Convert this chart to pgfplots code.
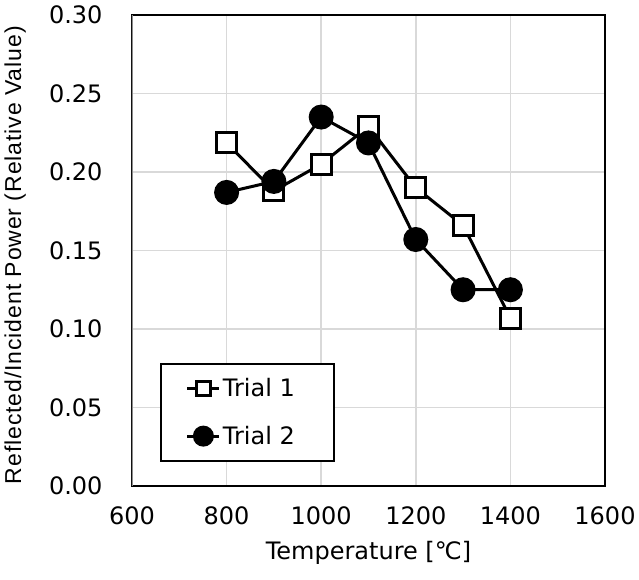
\documentclass[border=0pt]{standalone}
\usepackage{pgfplots}
\pgfplotsset{compat=1.18}
\usepackage{fontspec}
\setmainfont{Liberation Sans}
\newfontfamily\djv{DejaVu Sans}
\newfontfamily\ylab[LetterSpace=4]{Liberation Sans}
\definecolor{gridgray}{RGB}{217,217,217}
\begin{document}
\begin{tikzpicture}
\begin{axis}[
  at={(0,0)}, anchor=south west,
  scale only axis, width=473bp, height=471bp,
  xmin=600, xmax=1600, ymin=0, ymax=0.30,
  xtick={600,800,...,1600},
  ytick={0,0.05,...,0.30},
  /pgf/number format/assume math mode=true,
  yticklabel style={/pgf/number format/.cd, fixed, fixed zerofill, precision=2},
  xticklabel style={/pgf/number format/.cd, 1000 sep={}},
  tick label style={font=\djv\fontsize{24bp}{28bp}\selectfont},
  xticklabel shift=17bp,
  yticklabel shift=26bp,
  major tick length=0pt,
  grid=major,
  major grid style={gridgray, line width=1.8bp},
  axis line style={black, line width=2.5bp},
  xlabel={Temperature [℃]},
  x label style={font=\djv\fontsize{24bp}{28bp}\selectfont, at={(axis description cs:0.5,-0.142)}, anchor=center},
  ylabel={Reflected/Incident Power (Relative Value)},
  y label style={font=\ylab\fontsize{23bp}{27bp}\selectfont, at={(axis description cs:-0.247,0.490)}, anchor=center, rotate=0},
  legend cell align=left,
  legend style={at={(axis description cs:0.059,0.051)}, anchor=south west,
    draw=black, line width=2bp, font=\djv\fontsize{24bp}{28bp}\selectfont,
    inner xsep=25bp, inner ysep=13bp, row sep=24bp},
  legend image code/.code={\draw[mark repeat=2, mark phase=2, #1] plot coordinates {(0bp,0bp) (16bp,0bp) (32bp,0bp)};},
]
\addplot[forget plot, black, line width=3bp, mark=square*, mark size=10bp, mark options={fill=white, line width=3bp}]
  coordinates {(800,0.2185) (900,0.188) (1000,0.205) (1100,0.229) (1200,0.190) (1300,0.166) (1400,0.107)};
\addplot[forget plot, black, line width=3bp, mark=*, mark size=11bp, mark options={fill=black}]
  coordinates {(800,0.187) (900,0.194) (1000,0.235) (1100,0.2185) (1200,0.157) (1300,0.125) (1400,0.125)};
\addlegendimage{black, line width=3bp, mark=square*, mark size=7bp, mark options={fill=white, line width=3bp}}
\addlegendentry{Trial 1\hspace*{12bp}\mbox{}}
\addlegendimage{black, line width=3bp, mark=*, mark size=9bp, mark options={fill=black}}
\addlegendentry{Trial 2\hspace*{12bp}\mbox{}}
\draw[gray!90, line width=2.5bp] (rel axis cs:0,0) -- (rel axis cs:0,1);
\end{axis}
\path[use as bounding box] (-132bp,-94bp) rectangle (507bp,486bp);
\end{tikzpicture}
\end{document}
